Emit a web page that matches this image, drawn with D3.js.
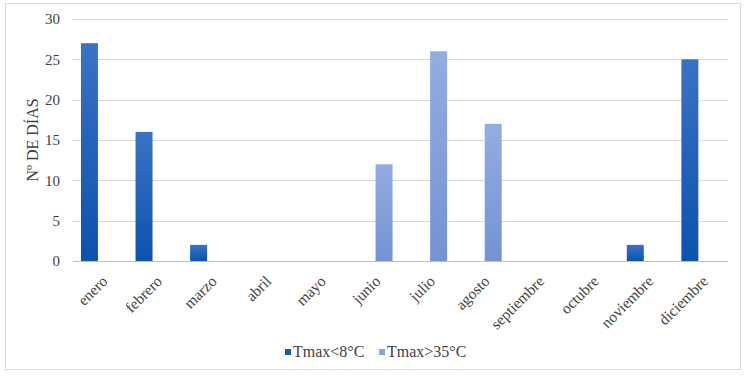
<!DOCTYPE html>
<html>
<head>
<meta charset="utf-8">
<script src="https://cdn.jsdelivr.net/npm/d3@7"></script>
<style>
  html, body { margin: 0; padding: 0; background: #fff; }
  svg text { font-family: "Liberation Serif", "DejaVu Serif", serif; }
</style>
</head>
<body>
<div id="container"></div>
<script>
const months = ["enero", "febrero", "marzo", "abril", "mayo", "junio", "julio",
    "agosto", "septiembre", "octubre", "noviembre", "diciembre"];
const seriesNames = ["Tmax<8°C", "Tmax>35°C"];
const frios = [27, 16, 2, 0, 0, 0, 0, 0, 0, 0, 2, 25];
const calidos = [0, 0, 0, 0, 0, 12, 26, 17, 0, 0, 0, 0];
const yTicks = [0, 5, 10, 15, 20, 25, 30];

const width = 748, height = 380;
const margin = { left: 73, right: 20, top: 19, bottom: 119 };
const serif = "'Liberation Serif', 'DejaVu Serif', serif";

const svg = d3.select("#container").append("svg")
    .attr("width", width)
    .attr("height", height);

// gradients for the bars
const defs = svg.append("defs");
const grads = [
    { id: "g0", top: "#3a72c4", bottom: "#0c52ad" },
    { id: "g1", top: "#93ade1", bottom: "#7493d2" }
];
grads.forEach(g => {
    const lg = defs.append("linearGradient").attr("id", g.id)
        .attr("x1", 0).attr("y1", 0).attr("x2", 0).attr("y2", 1);
    lg.append("stop").attr("offset", "0%").attr("stop-color", g.top);
    lg.append("stop").attr("offset", "100%").attr("stop-color", g.bottom);
});
const colors = ["url(#g0)", "url(#g1)"];
const legendColors = ["#1b5cb3", "#8aa5dc"];

// outer frame
svg.append("rect")
    .attr("x", 5.5).attr("y", 3.5)
    .attr("width", 735).attr("height", 366)
    .attr("fill", "none")
    .attr("stroke", "#d9d9d9");

const x0 = d3.scaleBand()
    .domain(months)
    .range([margin.left, width - margin.right])
    .padding(0);

const x1 = d3.scaleBand()
    .domain([0, 1])
    .range([0, x0.bandwidth()])
    .paddingInner(0.217)
    .paddingOuter(0.367);

const y = d3.scaleLinear()
    .domain([0, 30])
    .range([height - margin.bottom, margin.top]);

// gridlines
svg.append("g")
    .selectAll("line")
    .data(yTicks.filter(d => d > 0))
    .join("line")
    .attr("x1", margin.left).attr("x2", width - margin.right)
    .attr("y1", d => Math.round(y(d)) + 0.5).attr("y2", d => Math.round(y(d)) + 0.5)
    .attr("stroke", "#d9d9d9");

// y axis labels
const yAxis = svg.append("g")
    .attr("transform", `translate(${margin.left},0)`)
    .call(d3.axisLeft(y).tickValues(yTicks).tickSize(0).tickPadding(13))
    .attr("font-family", serif);
yAxis.select(".domain").remove();
yAxis.selectAll("text")
    .attr("font-size", 15)
    .attr("fill", "#404040");

// bars
const rows = months.map((m, i) => ({ month: m, values: [frios[i], calidos[i]] }));
const groups = svg.append("g").selectAll("g")
    .data(rows)
    .join("g")
    .attr("transform", d => `translate(${x0(d.month)},0)`);

groups.selectAll("rect")
    .data(d => d.values.map((v, k) => ({ k, v })).filter(e => e.v > 0))
    .join("rect")
    .attr("x", d => x1(d.k))
    .attr("width", x1.bandwidth())
    .attr("y", d => y(d.v))
    .attr("height", d => y(0) - y(d.v))
    .attr("fill", d => colors[d.k]);

// x axis line
svg.append("line")
    .attr("x1", margin.left).attr("x2", width - margin.right)
    .attr("y1", Math.round(y(0)) + 0.5).attr("y2", Math.round(y(0)) + 0.5)
    .attr("stroke", "#bfbfbf");

// x labels, rotated
svg.append("g")
    .attr("font-family", serif)
    .selectAll("text")
    .data(months)
    .join("text")
    .attr("transform", d => `translate(${x0(d) + x0.bandwidth() / 2 + 0.5},${y(0) + 13.5}) rotate(-45)`)
    .attr("text-anchor", "end")
    .attr("dy", "0.7em")
    .attr("font-size", 15.5)
    .attr("fill", "#404040")
    .text(d => d);

// y axis title
svg.append("text")
    .attr("transform", `translate(38,140) rotate(-90)`)
    .attr("text-anchor", "middle")
    .attr("font-family", serif)
    .attr("font-size", 16)
    .attr("fill", "#404040")
    .text("Nº DE DÍAS");

// legend
const legend = svg.append("g").attr("transform", "translate(285,352)")
    .attr("font-family", serif);
const legendX = [0, 94];
seriesNames.forEach((name, i) => {
    const g = legend.append("g").attr("transform", `translate(${legendX[i]},0)`);
    g.append("rect")
        .attr("x", 0).attr("y", -3)
        .attr("width", 6).attr("height", 6)
        .attr("fill", legendColors[i]);
    g.append("text")
        .attr("x", 8).attr("y", 5)
        .attr("font-size", 16)
        .attr("fill", "#404040")
        .text(name);
});
</script>
</body>
</html>
